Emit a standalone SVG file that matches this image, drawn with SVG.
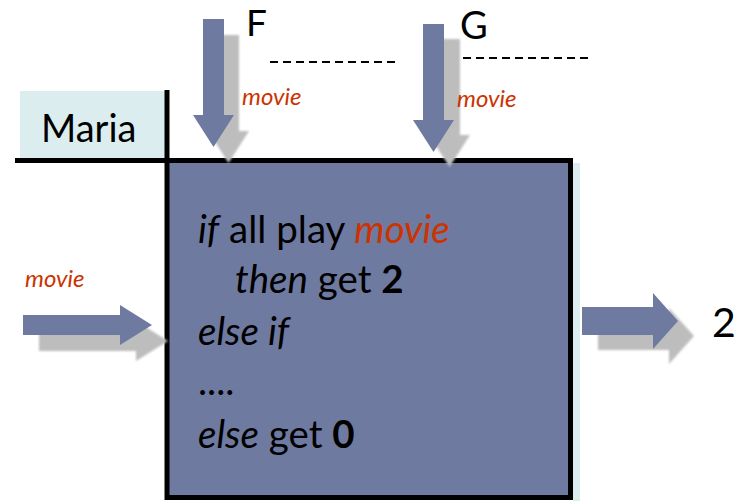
<svg xmlns="http://www.w3.org/2000/svg" width="742" height="501" viewBox="0 0 742 501">
  <style>
    text { font-family: Lato, "Open Sans", "Noto Sans", sans-serif; fill: #000; }
    .lbl { font-size: 24px; font-style: italic; fill: #cc3300; }
    .code { font-size: 38.5px; }
    .it { font-style: italic; }
    .bd { font-weight: bold; }
    .red { fill: #cc3300; }
    .arrow { fill: #6f7aa0; }
    .shadow { fill: #bdbdbd; filter: url(#soft); }
    .dash { stroke: #000; stroke-width: 2; stroke-dasharray: 8 5; fill: none; }
  </style>
  <defs>
    <filter id="soft" x="-20%" y="-20%" width="140%" height="140%">
      <feGaussianBlur stdDeviation="1.2"/>
    </filter>
    <polygon id="down" points="-10.5,0 10.5,0 10.5,96 20.5,96 0,128 -20.5,96 -10.5,96"/>
    <polygon id="rightL" points="0,-10 97,-10 97,-20 129,0 97,20 97,10 0,10"/>
    <polygon id="rightR" points="0,-14 71,-14 71,-28 96,0 71,28 71,14 0,14"/>
  </defs>

  <rect width="742" height="501" fill="#fff"/>

  <!-- agent name tab -->
  <g id="maria">
    <rect x="20" y="91" width="145" height="67" fill="#dcedef"/>
    <line x1="15" y1="160.5" x2="167" y2="160.5" stroke="#000" stroke-width="5"/>
    <text x="41" y="142" font-size="38">Maria</text>
  </g>

  <!-- decision box -->
  <g id="strategy">
    <rect x="573" y="163" width="7" height="338" fill="#dcedef"/>
    <rect x="167" y="160.5" width="403.5" height="337" fill="#6f7aa0" stroke="#000" stroke-width="5"/>
    <line x1="167" y1="90" x2="167" y2="162" stroke="#000" stroke-width="5"/>
    <text class="code" x="198" y="243"><tspan class="it">if</tspan> all play <tspan class="it red">movie</tspan></text>
    <text class="code" x="235" y="293"><tspan class="it">then</tspan> get <tspan class="bd">2</tspan></text>
    <text class="code it" x="198" y="345">else if</text>
    <text class="code" x="198" y="395">....</text>
    <text class="code" x="198" y="448"><tspan class="it">else</tspan> get <tspan class="bd">0</tspan></text>
  </g>

  <!-- other players -->
  <g id="playerF">
    <text x="246" y="36" font-size="37">F</text>
    <line class="dash" x1="270" y1="62" x2="398" y2="62"/>
  </g>
  <g id="playerG">
    <text x="460" y="39" font-size="38">G</text>
    <line class="dash" x1="463" y1="58" x2="592" y2="58"/>
  </g>

  <!-- input and output arrows -->
  <g id="connectors">
    <use href="#down" class="shadow" x="228.5" y="35"/>
    <use href="#down" class="arrow" x="213.5" y="19"/>
    <text class="lbl" x="242" y="105">movie</text>

    <use href="#down" class="shadow" x="449.5" y="39"/>
    <use href="#down" class="arrow" x="433.5" y="24"/>
    <text class="lbl" x="457" y="107">movie</text>

    <use href="#rightL" class="shadow" x="39" y="341"/>
    <use href="#rightL" class="arrow" x="23" y="325"/>
    <text class="lbl" x="25" y="287">movie</text>

    <use href="#rightR" class="shadow" x="598" y="336"/>
    <use href="#rightR" class="arrow" x="582" y="321"/>
    <text x="712" y="337" font-size="41">2</text>
  </g>
</svg>
